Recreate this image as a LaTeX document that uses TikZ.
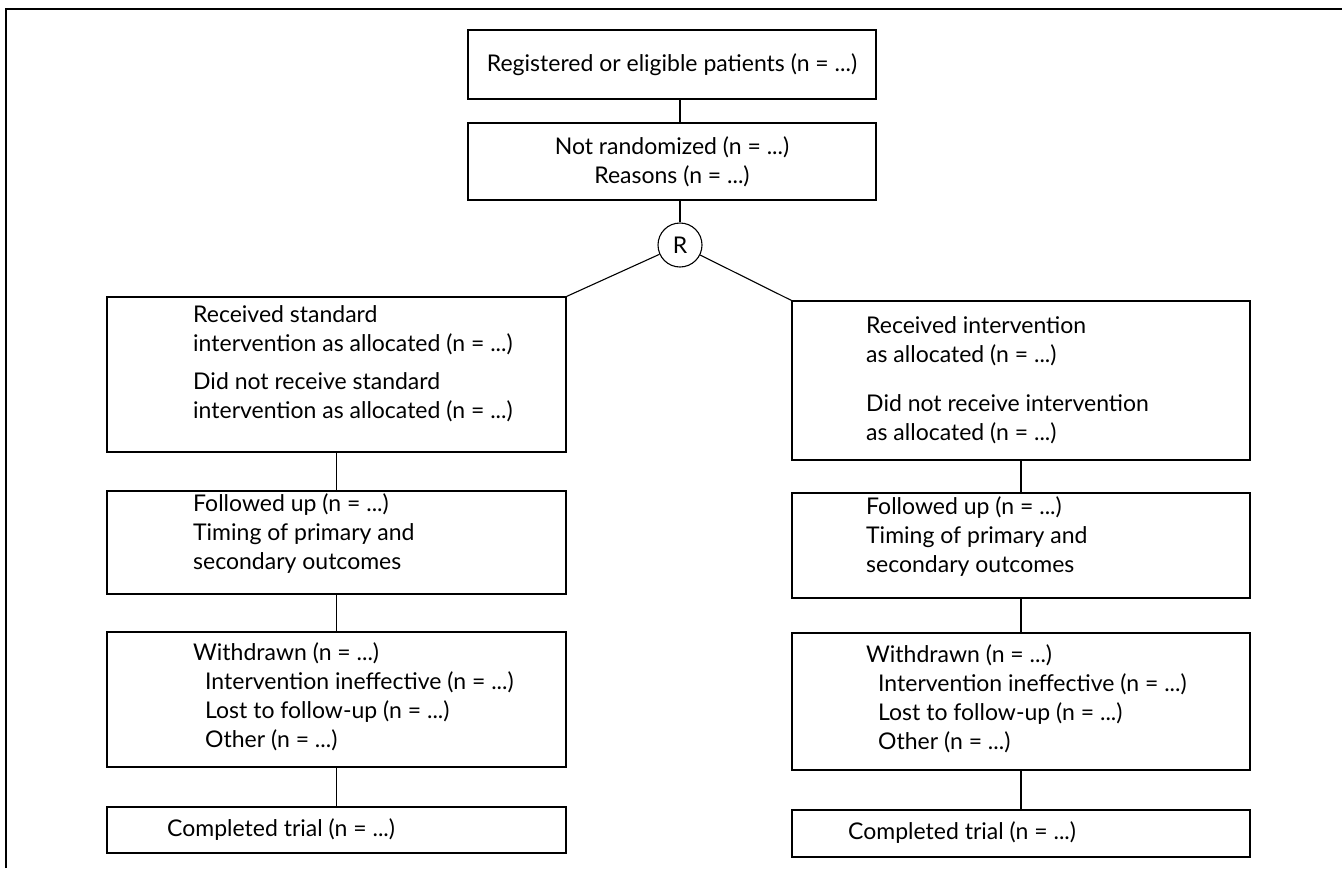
\documentclass[tikz,border=0pt]{standalone}
\usepackage{fontspec}
\setmainfont{Lato}
\begin{document}
\begin{tikzpicture}[x=1pt,y=-1pt,
  box/.style={draw, line width=1.1pt, inner sep=0pt},
  txt/.style={inner sep=0pt, align=left, font=\fontsize{23}{29}\selectfont},
  ctxt/.style={inner sep=0pt, align=center, font=\fontsize{23}{29}\selectfont},
  link/.style={draw, line width=1.1pt}]
\useasboundingbox (0,0) rectangle (1342,868);
% frame
\draw[line width=1.3pt] (6,868) -- (6,9) -- (1342,9);
% top boxes
\node[box, minimum width=408pt, minimum height=69pt] (top) at (672,64.5) {};
\node[ctxt] (ttop) at (672,64.5) {Registered or eligible patients (n = ...)};
\node[box, minimum width=408pt, minimum height=77pt] (nr) at (672,161.5) {};
\node[ctxt] (tnr) at (672,161.5) {Not randomized (n = ...)\\Reasons (n = ...)};
\node[draw, circle, line width=1.1pt, minimum size=44pt, inner sep=0pt, font=\fontsize{23}{29}\selectfont] (R) at (680,245) {R};
% left column
\node[box, minimum width=459pt, minimum height=155pt] (A1) at (336.5,374.5) {};
\node[box, minimum width=459pt, minimum height=103pt] (A2) at (336.5,542.5) {};
\node[box, minimum width=459pt, minimum height=135pt] (A3) at (336.5,699.5) {};
\node[box, minimum width=459pt, minimum height=46pt] (A4) at (336.5,830) {};
% right column
\node[box, minimum width=458pt, minimum height=159pt] (B1) at (1021,380.5) {};
\node[box, minimum width=458pt, minimum height=105pt] (B2) at (1021,545.5) {};
\node[box, minimum width=458pt, minimum height=137pt] (B3) at (1021,701.5) {};
\node[box, minimum width=458pt, minimum height=47pt] (B4) at (1021,833.5) {};
% texts left
\node[txt, anchor=west] (tA1) at (193,364) {Received standard\\intervention as allocated (n = ...)\\[9pt]Did not receive standard\\intervention as allocated (n = ...)};
\node[txt, anchor=west] (tA2) at (193,534) {Followed up (n = ...)\\Timing of primary and\\secondary outcomes};
\node[txt, anchor=west] (tA3) at (193,697) {Withdrawn (n = ...)\\\hspace*{12pt}Intervention ineffective (n = ...)\\\hspace*{12pt}Lost to follow-up (n = ...)\\\hspace*{12pt}Other (n = ...)};
\node[txt, anchor=west] (tA4) at (167,830) {Completed trial (n = ...)};
% texts right
\node[txt, anchor=west] (tB1) at (866,380) {Received intervention\\as allocated (n = ...)\\[20pt]Did not receive intervention\\as allocated (n = ...)};
\node[txt, anchor=west] (tB2) at (866,537) {Followed up (n = ...)\\Timing of primary and\\secondary outcomes};
\node[txt, anchor=west] (tB3) at (866,699) {Withdrawn (n = ...)\\\hspace*{12pt}Intervention ineffective (n = ...)\\\hspace*{12pt}Lost to follow-up (n = ...)\\\hspace*{12pt}Other (n = ...)};
\node[txt, anchor=west] (tB4) at (848,833) {Completed trial (n = ...)};
% connectors
\draw[link] (top.south -| R.north) -- (nr.north -| R.north);
\draw[link] (nr.south -| R.north) -- (R.north);
\draw[link] (R) -- (A1.north east);
\draw[link] (R) -- (B1.north west);
\draw[link] (A1) -- (A2);
\draw[link] (A2) -- (A3);
\draw[link] (A3) -- (A4);
\draw[link] (B1) -- (B2);
\draw[link] (B2) -- (B3);
\draw[link] (B3) -- (B4);
\end{tikzpicture}
\end{document}
